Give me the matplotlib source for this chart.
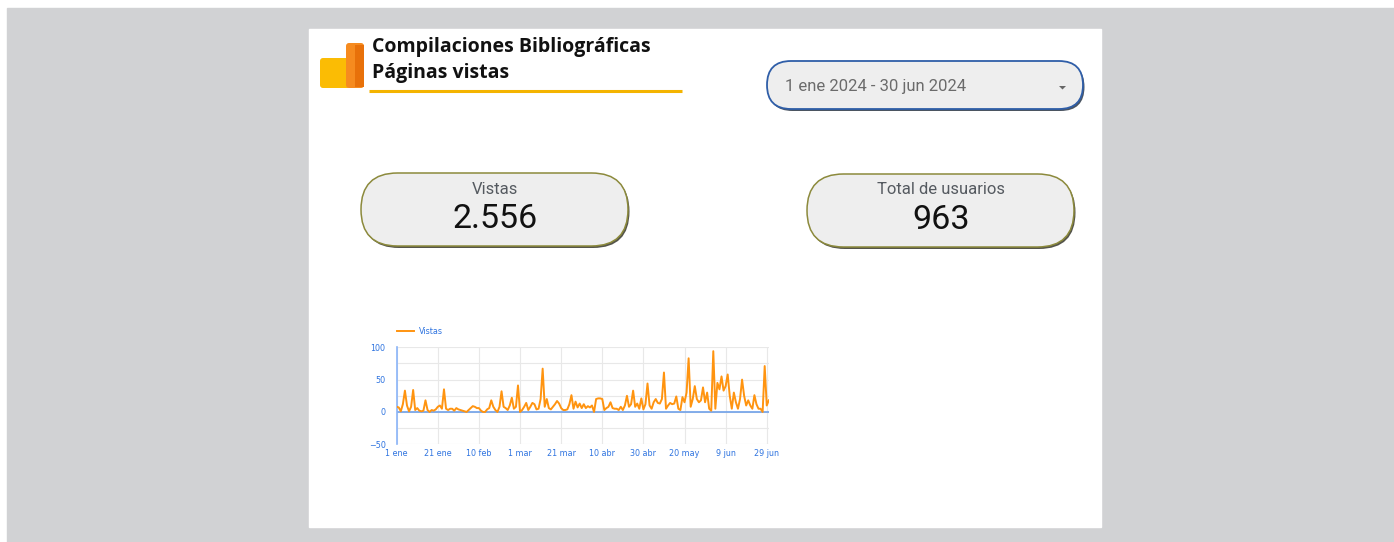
import numpy as np
import pandas as pd
import matplotlib
matplotlib.use("Agg")
import matplotlib.pyplot as plt
from matplotlib.patches import FancyBboxPatch, Rectangle, Polygon

# daily page views, 1 ene 2024 - 30 jun 2024
vistas = [
    8, 7, 1, 12, 33, 10, 1, 8, 34, 3, 6, 2, 1, 2, 18, 3, 0, 3, 2, 4,
    8, 10, 5, 35, 5, 3, 5, 5, 2, 6, 4,
    3, 2, 1, 0, 3, 6, 9, 8, 6, 6, 2, 0, 0, 4, 6, 18, 8, 3, 0, 8,
    32, 8, 6, 3, 10, 22, 5, 8, 41,
    0, 3, 8, 14, 3, 8, 14, 12, 4, 5, 20, 67, 8, 20, 6, 4, 8, 12, 17, 13,
    6, 3, 3, 4, 12, 26, 5, 16, 7, 13, 6, 12, 6, 9, 7, 10, 0, 20, 21, 21,
    20, 3, 6, 8, 15, 6, 5, 5, 3, 8, 3, 10, 25, 8, 12, 33, 8, 13, 5, 21,
    4, 12, 44, 10, 5, 15, 20, 14, 13, 20, 61, 5, 10, 14, 12, 13, 24, 5, 3, 23,
    15, 30, 83, 8, 20, 40, 20, 15, 18, 38, 15, 30, 5, 2, 94, 5, 45, 35, 55, 33,
    40, 58, 25, 5, 30, 15, 5, 20, 50, 25, 10, 18, 10, 5, 26, 12, 5, 5, 0, 71,
    10, 18,
]
fechas = pd.date_range("2024-01-01", periods=len(vistas), freq="D")

tick_fechas = ["2024-01-01", "2024-01-21", "2024-02-10", "2024-03-01", "2024-03-21",
               "2024-04-10", "2024-04-30", "2024-05-20", "2024-06-09", "2024-06-29"]
tick_labels = ["1 ene", "21 ene", "10 feb", "1 mar", "21 mar",
               "10 abr", "30 abr", "20 may", "9 jun", "29 jun"]
y_ticks = [-50, 0, 50, 100]

titulo = ["Compilaciones Bibliográficas", "Páginas vistas"]
rango = "1 ene 2024 - 30 jun 2024"
kpi_nombres = ["Vistas", "Total de usuarios"]
kpi_valores = ["2.556", "963"]

W, H = 1394, 542
fig = plt.figure(figsize=(W / 100, H / 100), dpi=100)
fig.patch.set_facecolor("white")

# pixel-space overlay for the dashboard decoration
bg = fig.add_axes([0, 0, 1, 1])
bg.set_xlim(0, W)
bg.set_ylim(H, 0)
bg.axis("off")

bg.add_patch(Rectangle((7, 8), W - 7, H - 8, color="#d1d2d4", zorder=0))
bg.add_patch(Rectangle((309, 29), 792, 498, color="white", zorder=1))

# logo
bg.add_patch(FancyBboxPatch((320, 58), 30, 30, boxstyle="round,pad=0,rounding_size=3",
                            fc="#fbbc04", ec="none", zorder=2))
bg.add_patch(FancyBboxPatch((346, 43), 18, 45, boxstyle="round,pad=0,rounding_size=3",
                            fc="#f68b1f", ec="none", zorder=3))
bg.add_patch(Rectangle((355, 45), 8.5, 42, fc="#e8710a", ec="none", zorder=4))

bg.text(372, 47, titulo[0], fontsize=14, fontweight="bold", family="Open Sans",
        color="#111111", va="center", ha="left", zorder=5)
bg.text(372, 73, titulo[1], fontsize=14, fontweight="bold", family="Open Sans",
        color="#111111", va="center", ha="left", zorder=5)
bg.plot([369, 682], [91, 91], color="#f4b400", lw=2.2, solid_capstyle="butt", zorder=5)


def pill(x, y, w, h, fc, ec, lw, sc):
    r = h / 2
    bg.add_patch(FancyBboxPatch((x + 1.5, y + 2), w, h,
                                boxstyle=f"round,pad=0,rounding_size={r}",
                                fc=sc, ec="none", alpha=0.8, zorder=2))
    bg.add_patch(FancyBboxPatch((x, y), w, h,
                                boxstyle=f"round,pad=0,rounding_size={r}",
                                fc=fc, ec=ec, lw=lw, zorder=3))


# date range selector
pill(767, 61, 316, 48, "#eeeeee", "#2f5ea8", 1.3, "#1e2a3a")
bg.text(785, 86, rango, fontsize=12, family="Roboto", color="#6b6b6b",
        va="center", ha="left", zorder=5)
bg.add_patch(Polygon([[1059, 86], [1066, 86], [1062.5, 89.5]], closed=True,
                     fc="#666666", ec="none", zorder=5))

# KPI cards
for (x, y), nombre, valor in zip([(361, 173), (807, 174)], kpi_nombres, kpi_valores):
    pill(x, y, 267, 73, "#eeeeee", "#8c8a3c", 1.1, "#2a2a1e")
    cx = x + 134
    bg.text(cx, y + 16, nombre, fontsize=12, family="Roboto", color="#555a60",
            va="center", ha="center", zorder=5)
    bg.text(cx, y + 46, valor, fontsize=24.5, family="Roboto", color="#111111",
            va="center", ha="center", zorder=5)

# time-series chart
ax = fig.add_axes([396.7 / W, 1 - 444.3 / H, 372.1 / W, 97 / H])
ax.set_facecolor("none")
ax.plot(fechas, vistas, color="#ff9410", lw=1.4, solid_joinstyle="round", zorder=3,
        label="Vistas")
ax.set_xlim(fechas[0], fechas[-1])
ax.set_ylim(-50, 100)
ax.set_yticks(y_ticks)
ax.set_yticks([-25, 25, 75], minor=True)
ax.set_xticks(pd.to_datetime(tick_fechas))
ax.set_xticklabels(tick_labels)
ax.grid(True, which="both", color="#e8e8e8", lw=0.8, zorder=0)
ax.axhline(0, color="#6fa0e8", lw=1.2, zorder=2)
for s in ["top", "right", "bottom"]:
    ax.spines[s].set_visible(False)
ax.spines["left"].set_color("#8ab4f8")
ax.spines["left"].set_linewidth(1.2)
ax.tick_params(axis="both", which="both", length=0, labelsize=5.8, labelcolor="#2f74e0")
ax.tick_params(axis="y", pad=8)
ax.tick_params(axis="x", pad=3.5)
ax.legend(loc="lower left", bbox_to_anchor=(0.0, 1.12), frameon=False, fontsize=5.8,
          handlelength=2.2, handletextpad=0.5, borderaxespad=0, borderpad=0,
          labelcolor="#2f74e0")

fig.savefig("out.png", dpi=100)
